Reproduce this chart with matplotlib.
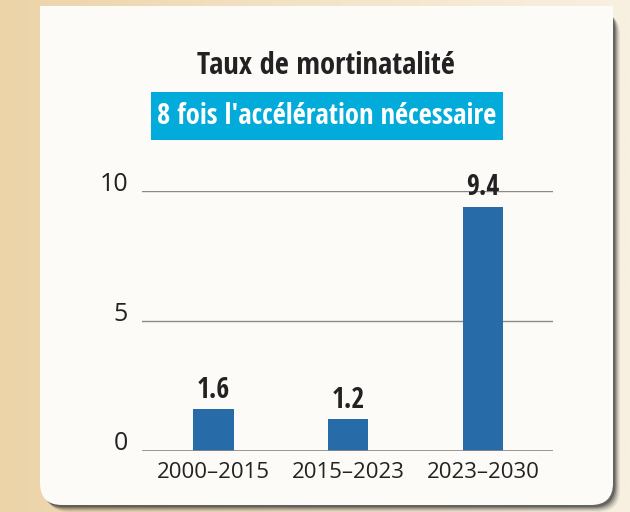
import matplotlib
matplotlib.use("Agg")
import matplotlib.pyplot as plt
import numpy as np
from matplotlib.patches import FancyBboxPatch, Rectangle
from matplotlib.colors import LinearSegmentedColormap

categories = ["2000–2015", "2015–2023", "2023–2030"]
values = [1.6, 1.2, 9.4]
value_labels = ["1.6", "1.2", "9.4"]
yticks = [0, 5, 10]
ytick_labels = ["0", "5", "10"]
title = "Taux de mortinatalité"
subtitle = "8 fois l'accélération nécessaire"

COND = ["Open Sans Condensed", "Open Sans"]
FONT = ["Open Sans"]
W, H = 630, 512
fig = plt.figure(figsize=(W / 100, H / 100), dpi=100)

# background gradient
bg = fig.add_axes([0, 0, 1, 1])
bg.set_xlim(0, W)
bg.set_ylim(H, 0)
bg.axis("off")
grad = np.linspace(0, 1, 256)[None, :]
cmap = LinearSegmentedColormap.from_list("bg", ["#ECD3A8", "#F3E4C8", "#F8F0E1"])
bg.imshow(grad, extent=[0, W, H, 0], aspect="auto", cmap=cmap, zorder=0)

# card shadow
for i, a in enumerate([0.08, 0.12, 0.18, 0.28, 0.4]):
    off = 7 - i * 1.2
    sh = FancyBboxPatch((40 + off, 6 + off), 573, 499, boxstyle="round,pad=0,rounding_size=22",
                        fc="#2e2e2e", ec="none", alpha=a, zorder=1)
    bg.add_patch(sh)
card = FancyBboxPatch((40, 6), 573, 499, boxstyle="round,pad=0,rounding_size=22",
                      fc="#FCFBF8", ec="none", zorder=2)
bg.add_patch(card)
bg.add_patch(Rectangle((40, 6), 573, 100, fc="#FCFBF8", ec="none", zorder=2))

# subtitle box
bg.add_patch(Rectangle((151, 92), 352, 48, fc="#02ABD9", ec="none", zorder=3))

fig.text(0.517, 0.871, title, ha="center", va="center", fontsize=22, fontweight="bold",
         color="#222222", family=COND)
fig.text(0.519, 1 - 116 / H, subtitle, ha="center", va="center", fontsize=20.5, fontweight="bold",
         color="white", family=COND, zorder=4)

ax = fig.add_axes([142 / W, 1 - 450.5 / H, 411 / W, (450.5 - 191) / H])
ax.patch.set_alpha(0)
x = np.arange(len(categories))
bars = ax.bar(x, values, width=0.3, color="#276BA8", zorder=3)
for xi, v, lab in zip(x, values, value_labels):
    ax.annotate(lab, (xi, v), xytext=(0, 3), textcoords="offset points", ha="center", va="bottom",
                fontsize=20, fontweight="bold", color="#222222", family=COND, clip_on=False)
ax.set_xlim(-0.53, 2.52)
ax.set_ylim(0, 10)
ax.set_yticks(yticks)
ax.set_yticklabels(ytick_labels, family=FONT, fontsize=18, color="#222222")
for lab in ax.get_yticklabels():
    lab.set_verticalalignment("baseline")
ax.set_xticks(x)
ax.set_xticklabels(categories, family=FONT, fontsize=16, color="#222222")
ax.tick_params(axis="both", length=0)
ax.tick_params(axis="y", pad=10)
ax.tick_params(axis="x", pad=8)
ax.grid(axis="y", color="#8a8a8a", linewidth=1)
for s in ax.spines.values():
    s.set_visible(False)
ax.axhline(0, color="#8a8a8a", linewidth=1.2, zorder=4)

fig.savefig("out.png", dpi=100)
